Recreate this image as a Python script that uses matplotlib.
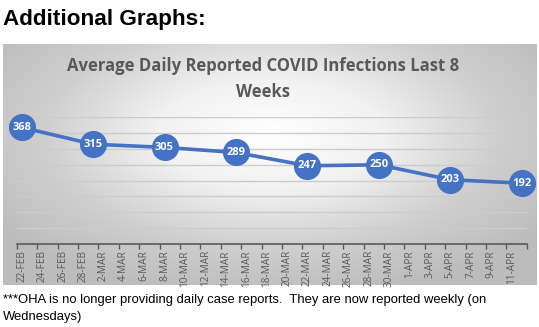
import numpy as np
import matplotlib
matplotlib.use("Agg")
import matplotlib.pyplot as plt
from matplotlib.colors import LinearSegmentedColormap

# ---- data ----
start_labels = ["22-FEB", "24-FEB", "26-FEB", "28-FEB", "2-MAR", "4-MAR", "6-MAR", "8-MAR",
                "10-MAR", "12-MAR", "14-MAR", "16-MAR", "18-MAR", "20-MAR", "22-MAR",
                "24-MAR", "26-MAR", "28-MAR", "30-MAR", "1-APR", "3-APR", "5-APR",
                "7-APR", "9-APR", "11-APR"]
point_days = [0, 7, 14, 21, 28, 35, 42, 49]          # days after 22-Feb
point_values = [368, 315, 305, 289, 247, 250, 203, 192]
n_days = 50
y_max = 400
grid_step = 50

W, H = 539, 327
fig = plt.figure(figsize=(W / 100, H / 100), dpi=100)
fig.patch.set_facecolor("white")

def fx(px):
    return px / W

def fy(py):
    return 1 - py / H

# page header
fig.text(fx(3), fy(19), "Additional Graphs:", fontsize=16.2, fontweight="bold",
         family="Liberation Sans", color="black", va="center", ha="left")

# chart panel with radial gradient
pl, pt, pr, pb = 3, 44, 537, 285
bg = fig.add_axes([fx(pl), fy(pb), fx(pr - pl), (pb - pt) / H])
xx, yy = np.meshgrid(np.linspace(-1, 1, 400), np.linspace(-1, 1, 200))
r = np.sqrt((xx / 1.0) ** 2 + ((yy + 0.25) / 1.1) ** 2)
r = np.clip(r / 1.25, 0, 1)
cmap = LinearSegmentedColormap.from_list("g", ["#ffffff", "#f2f2f2", "#d0d0d0", "#bcbcbc"])
bg.imshow(r, cmap=cmap, aspect="auto", extent=[0, 1, 0, 1], origin="upper", vmin=0, vmax=1)
bg.set_xlim(0, 1)
bg.set_ylim(0, 1)
bg.axis("off")

# chart title
fig.text(fx(263), fy(66), "Average Daily Reported COVID Infections Last 8", fontsize=12,
         fontweight="bold", family="Open Sans", color="#595959", ha="center", va="center")
fig.text(fx(263), fy(92), "Weeks", fontsize=12,
         fontweight="bold", family="Open Sans", color="#595959", ha="center", va="center")

# plot area
x0, x1 = 16.7, 526.7
ybot, ytop = 244, 117.3
ax = fig.add_axes([fx(x0), fy(ybot), fx(x1 - x0), (ybot - ytop) / H])
ax.set_facecolor("none")
ax.set_xlim(-0.5, n_days - 0.5)
ax.set_ylim(0, y_max)

for g in range(grid_step, y_max + 1, grid_step):
    ax.axhline(g, color="#cccccc", lw=1.0, zorder=1)

line_color = "#4472C4"
ax.plot(point_days, point_values, color=line_color, lw=2.6, zorder=3, clip_on=False,
        solid_capstyle="round")
ax.plot(point_days, point_values, "o", ms=18.5, color=line_color, mec=line_color, zorder=4,
        clip_on=False)
for d, v in zip(point_days, point_values):
    ax.text(d, v, str(v), color="white", fontsize=8, fontweight="bold", family="Open Sans",
            ha="center", va="center", zorder=5)

for s in ["top", "right", "left"]:
    ax.spines[s].set_visible(False)
ax.spines["bottom"].set_color("#595959")
ax.spines["bottom"].set_linewidth(1.2)
ax.set_yticks([])

ax.set_xticks(np.arange(-0.5, n_days, 2))
ax.set_xticklabels([])
ax.tick_params(axis="x", which="major", length=3.5, width=1.0, color="#595959", direction="out")
ax.set_xticks(np.arange(0, n_days, 2), minor=True)
ax.set_xticklabels(start_labels, minor=True, rotation=90, fontsize=7.2, color="#595959",
                   family="Open Sans")
ax.tick_params(axis="x", which="minor", length=0, pad=4.5)

# footnote
fig.text(fx(3), fy(300), "***OHA is no longer providing daily case reports.  They are now reported weekly (on",
         fontsize=9.4, family="Liberation Sans", color="black", ha="left", va="center")
fig.text(fx(3), fy(317), "Wednesdays)",
         fontsize=9.4, family="Liberation Sans", color="black", ha="left", va="center")

fig.savefig("out.png", dpi=100, facecolor="white")
